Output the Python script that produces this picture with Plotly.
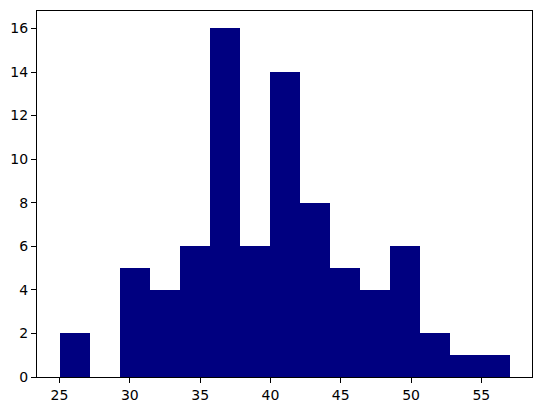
import plotly.graph_objects as go

bin_start = 25.0
bin_end = 57.0
counts = [2, 0, 5, 4, 6, 16, 6, 14, 8, 5, 4, 6, 2, 1, 1]
x_ticks = [25, 30, 35, 40, 45, 50, 55]
y_ticks = [0, 2, 4, 6, 8, 10, 12, 14, 16]

n = len(counts)
width = (bin_end - bin_start) / n
centers = [bin_start + width * (i + 0.5) for i in range(n)]

fig = go.Figure(go.Bar(x=centers, y=counts, width=[width] * n,
                       marker=dict(color="#000080", line=dict(width=0))))

axis_common = dict(showline=True, linecolor="black", linewidth=1, mirror=True,
                   ticks="outside", ticklen=5, tickcolor="black", tickwidth=1,
                   showgrid=False, zeroline=False,
                   tickfont=dict(family="DejaVu Sans", size=14, color="black"))

fig.update_layout(
    width=543, height=413,
    margin=dict(l=37, r=10, t=10, b=34),
    plot_bgcolor="white", paper_bgcolor="white",
    bargap=0,
    showlegend=False,
    xaxis=dict(range=[23.4, 58.6], tickvals=x_ticks, **axis_common),
    yaxis=dict(range=[0, 16.8], tickvals=y_ticks, **axis_common),
)

fig.write_html("out.html", config={"displayModeBar": False},
               post_script="document.body.style.margin='0';document.body.style.overflow='hidden';")
